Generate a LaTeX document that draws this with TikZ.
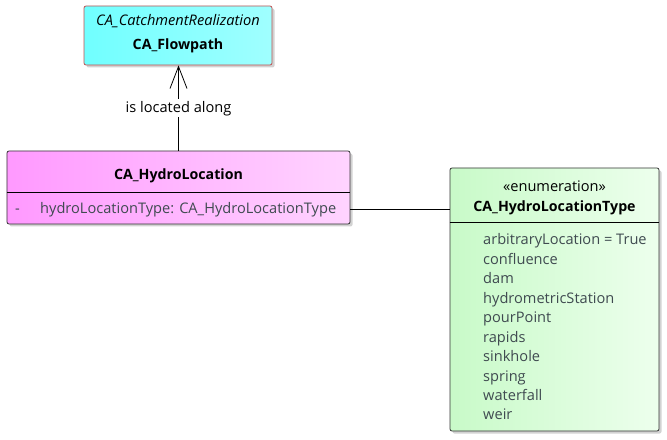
\documentclass[tikz,border=0pt]{standalone}
\usepackage{fontspec}
\setmainfont{Open Sans}
\usepackage{tikz}
\usetikzlibrary{arrows.meta,shadows}

\definecolor{flowcyan}{HTML}{70FFFF}
\definecolor{flowcyanlt}{HTML}{A0FFFF}
\definecolor{flowred}{HTML}{C05050}
\definecolor{locpink}{HTML}{FF99FF}
\definecolor{locpinklt}{HTML}{FFD4FF}
\definecolor{enumgreen}{HTML}{C8FAC8}
\definecolor{enumgreenlt}{HTML}{EDFFED}
\definecolor{attrgrey}{HTML}{3F4A50}

\begin{document}
\begin{tikzpicture}[x=1bp,y=-1bp,font=\fontsize{14.6bp}{17bp}\selectfont,
  classbox/.style={draw=#1, rounded corners=2bp, line width=0.8bp, inner sep=0pt,
    drop shadow={shadow xshift=2.5bp, shadow yshift=-2.5bp, fill=black!35, opacity=0.5}},
  title/.style={font=\fontsize{14.2bp}{17bp}\selectfont\bfseries, inner sep=0pt, text height=12bp, text depth=2bp},
  attr/.style={anchor=west, text=attrgrey, inner sep=0pt, text height=12bp, text depth=2bp},
  assoc/.style={line width=0.8bp}]
\useasboundingbox (0,0) rectangle (667,440);
% CA_Flowpath
\node[classbox=flowred, left color=flowcyan, right color=flowcyanlt, minimum width=188bp, minimum height=59bp] (flowpath) at (178,35.5) {};
\node[font=\fontsize{14.6bp}{17bp}\selectfont\itshape, inner sep=0pt, text height=12bp, text depth=2bp] (flowstereo) at (178,21) {CA\_CatchmentRealization};
\node[title] (flowname) at (178,45) {CA\_Flowpath};
% CA_HydroLocation
\node[classbox=black!80, left color=locpink, right color=locpinklt, minimum width=343bp, minimum height=73bp] (hydroloc) at (178.5,187.5) {};
\node[title] (locname) at (178.5,175) {CA\_HydroLocation};
\coordinate (locsplit) at (0,192);
\draw[line width=0.8bp] (hydroloc.west |- locsplit) -- (hydroloc.east |- locsplit);
\node[attr] (locdash) at (15,209) {-};
\node[attr] (loctype) at (40,209) {hydroLocationType: CA\_HydroLocationType};
% CA_HydroLocationType
\node[classbox=black!80, left color=enumgreen, right color=enumgreenlt, minimum width=209bp, minimum height=263bp] (hydrotype) at (554.5,299.5) {};
\node[inner sep=0pt, text height=12bp, text depth=2bp] (typestereo) at (554.5,187) {«enumeration»};
\node[title] (typename) at (554.5,207) {CA\_HydroLocationType};
\coordinate (typesplit) at (0,222);
\draw[line width=0.8bp] (hydrotype.west |- typesplit) -- (hydrotype.east |- typesplit);
\foreach \lit [count=\i from 0] in {arbitraryLocation = True, confluence, dam, hydrometricStation, pourPoint, rapids, sinkhole, spring, waterfall, weir}
  \node[attr] (lit\i) at (483,240+19.44*\i) {\lit};
% associations
\draw[assoc, -{Straight Barb[length=22bp, width=17bp]}] (hydroloc.north) -- node[fill=white, inner sep=2bp, text height=12bp, text depth=2bp] (locatedlabel) {is located along} (hydroloc.north |- flowpath.south);
\draw[assoc] (hydroloc.east |- loctype) -- (hydrotype.west |- loctype);
\end{tikzpicture}
\end{document}
